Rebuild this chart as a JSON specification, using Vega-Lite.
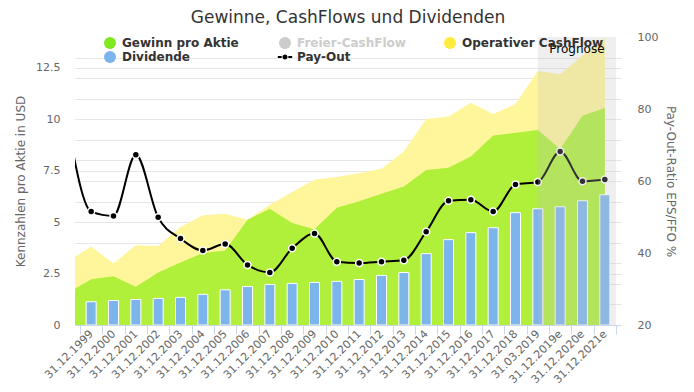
{
  "$schema": "https://vega.github.io/schema/vega-lite/v6.json",
  "autosize": {"type": "none"},
  "width": 546,
  "height": 288,
  "padding": {"left": 75, "top": 37, "right": 73, "bottom": 67},
  "background": "white",
  "config": {
    "view": {"stroke": null},
    "font": "DejaVu Sans",
    "axis": {"labelFont": "DejaVu Sans", "titleFont": "DejaVu Sans"}
  },
  "title": {
    "text": "Gewinne, CashFlows und Dividenden",
    "anchor": "middle",
    "frame": "group",
    "font": "DejaVu Sans",
    "fontSize": 17,
    "fontWeight": "normal",
    "color": "#333333",
    "offset": 4
  },
  "datasets": {
    "main": [
      {"i": -1, "label": "31.12.1998", "eps": 1.58, "ocf": 3.13, "div": null, "payout": 74},
      {"i": 0, "label": "31.12.1999", "eps": 2.23, "ocf": 3.81, "div": 1.13, "payout": 51.5},
      {"i": 1, "label": "31.12.2000", "eps": 2.37, "ocf": 2.99, "div": 1.19, "payout": 50.3},
      {"i": 2, "label": "31.12.2001", "eps": 1.86, "ocf": 3.88, "div": 1.24, "payout": 67.3},
      {"i": 3, "label": "31.12.2002", "eps": 2.55, "ocf": 3.84, "div": 1.29, "payout": 49.9},
      {"i": 4, "label": "31.12.2003", "eps": 3.04, "ocf": 4.76, "div": 1.34, "payout": 44.0},
      {"i": 5, "label": "31.12.2004", "eps": 3.50, "ocf": 5.33, "div": 1.49, "payout": 40.7},
      {"i": 6, "label": "31.12.2005", "eps": 3.62, "ocf": 5.41, "div": 1.71, "payout": 42.5},
      {"i": 7, "label": "31.12.2006", "eps": 5.12, "ocf": 5.12, "div": 1.87, "payout": 36.7},
      {"i": 8, "label": "31.12.2007", "eps": 5.65, "ocf": 5.84, "div": 1.97, "payout": 34.6},
      {"i": 9, "label": "31.12.2008", "eps": 4.96, "ocf": 6.46, "div": 2.02, "payout": 41.3},
      {"i": 10, "label": "31.12.2009", "eps": 4.65, "ocf": 7.06, "div": 2.07, "payout": 45.4},
      {"i": 11, "label": "31.12.2010", "eps": 5.70, "ocf": 7.19, "div": 2.12, "payout": 37.6},
      {"i": 12, "label": "31.12.2011", "eps": 6.02, "ocf": 7.38, "div": 2.21, "payout": 37.2},
      {"i": 13, "label": "31.12.2012", "eps": 6.38, "ocf": 7.59, "div": 2.41, "payout": 37.6},
      {"i": 14, "label": "31.12.2013", "eps": 6.73, "ocf": 8.43, "div": 2.55, "payout": 38.0},
      {"i": 15, "label": "31.12.2014", "eps": 7.54, "ocf": 10.01, "div": 3.47, "payout": 45.9},
      {"i": 16, "label": "31.12.2015", "eps": 7.64, "ocf": 10.14, "div": 4.15, "payout": 54.5},
      {"i": 17, "label": "31.12.2016", "eps": 8.19, "ocf": 10.80, "div": 4.49, "payout": 54.8},
      {"i": 18, "label": "31.12.2017", "eps": 9.21, "ocf": 10.26, "div": 4.73, "payout": 51.5},
      {"i": 19, "label": "31.12.2018", "eps": 9.34, "ocf": 10.74, "div": 5.46, "payout": 59.0},
      {"i": 20, "label": "31.03.2019", "eps": 9.48, "ocf": 12.35, "div": 5.65, "payout": 59.7},
      {"i": 21, "label": "31.12.2019e", "eps": 8.56, "ocf": 12.19, "div": 5.75, "payout": 68.2},
      {"i": 22, "label": "31.12.2020e", "eps": 10.17, "ocf": 13.10, "div": 6.04, "payout": 59.9},
      {"i": 23, "label": "31.12.2021e", "eps": 10.55, "ocf": 13.97, "div": 6.33, "payout": 60.4}
    ],
    "band": [{"start": 20, "end": 23.5, "mid": 21.75, "ypos": 13.4, "text": "Prognose"}],
    "legend": [
      {"series": "Gewinn pro Aktie"},
      {"series": "Freier-CashFlow"},
      {"series": "Operativer CashFlow"},
      {"series": "Dividende"},
      {"series": "Pay-Out"}
    ]
  },
  "layer": [
    {
      "data": {"name": "main"},
      "mark": {"type": "area", "color": "#fff59a", "clip": true, "interpolate": "linear"},
      "encoding": {
        "x": {
          "field": "i", "type": "quantitative",
          "scale": {"domain": [-0.5, 23.5], "nice": false, "zero": false},
          "axis": {
            "values": [0,1,2,3,4,5,6,7,8,9,10,11,12,13,14,15,16,17,18,19,20,21,22,23],
            "labelExpr": "['31.12.1999','31.12.2000','31.12.2001','31.12.2002','31.12.2003','31.12.2004','31.12.2005','31.12.2006','31.12.2007','31.12.2008','31.12.2009','31.12.2010','31.12.2011','31.12.2012','31.12.2013','31.12.2014','31.12.2015','31.12.2016','31.12.2017','31.12.2018','31.03.2019','31.12.2019e','31.12.2020e','31.12.2021e'][datum.value]",
            "labelAngle": -45, "labelAlign": "right", "labelBaseline": "middle",
            "labelPadding": 7, "labelFontSize": 11, "labelColor": "#666666",
            "labelOverlap": false, "labelFlush": false, "labelBound": false,
            "ticks": false, "grid": false, "domain": true, "domainColor": "#ccd6eb", "domainWidth": 1,
            "title": null, "orient": "bottom"
          }
        },
        "y": {
          "field": "ocf", "type": "quantitative",
          "scale": {"domain": [0, 14], "nice": false, "zero": true},
          "axis": {
            "orient": "left",
            "values": [0, 2.5, 5, 7.5, 10, 12.5],
            "labelExpr": "datum.value == 0 ? '0' : (datum.value % 1 == 0 ? format(datum.value, 'd') : format(datum.value, '.1f'))",
            "labelFontSize": 11, "labelColor": "#666666", "labelPadding": 15,
            "ticks": false, "domain": false,
            "grid": true, "gridColor": "#e6e6e6",
            "title": "Kennzahlen pro Aktie in USD",
            "titleFontSize": 12, "titleFontWeight": "normal", "titleColor": "#666666",
            "titlePadding": 8
          }
        }
      }
    },
    {
      "data": {"name": "main"},
      "mark": {"type": "area", "color": "#b0f03a", "clip": true, "interpolate": "linear"},
      "encoding": {
        "x": {
          "field": "i", "type": "quantitative",
          "axis": {
            "orient": "bottom",
            "values": [-0.5,0.5,1.5,2.5,3.5,4.5,5.5,6.5,7.5,8.5,9.5,10.5,11.5,12.5,13.5,14.5,15.5,16.5,17.5,18.5,19.5,20.5,21.5,22.5,23.5],
            "labels": false, "ticks": true, "tickSize": 9, "tickColor": "#ccd6eb",
            "domain": false, "grid": false, "title": null
          }
        },
        "y": {
          "field": "eps", "type": "quantitative",
          "scale": {"domain": [0, 14], "nice": false, "zero": true},
          "axis": {
            "orient": "left",
            "values": [0,1,2,3,4,5,6,7,8,9,10,11,12,13],
            "labels": false, "ticks": false, "domain": false,
            "grid": true, "gridColor": "#e6e6e6", "title": null
          }
        }
      }
    },
    {
      "data": {"name": "main"},
      "transform": [{"filter": "datum.div != null"}],
      "mark": {"type": "bar", "color": "#7cb5ec", "width": 10, "stroke": "white", "strokeWidth": 1, "clip": true},
      "encoding": {
        "x": {"field": "i", "type": "quantitative", "axis": null},
        "y": {
          "field": "div", "type": "quantitative",
          "scale": {"domain": [0, 14], "nice": false, "zero": true},
          "axis": null
        }
      }
    },
    {
      "data": {"name": "main"},
      "mark": {"type": "line", "color": "#000000", "strokeWidth": 2, "interpolate": "monotone", "clip": true},
      "encoding": {
        "x": {"field": "i", "type": "quantitative", "axis": null},
        "y": {
          "field": "payout", "type": "quantitative",
          "scale": {"domain": [20, 100], "nice": false, "zero": false},
          "axis": {
            "orient": "right",
            "values": [20, 40, 60, 80, 100],
            "labelFontSize": 11, "labelColor": "#666666", "labelPadding": 16,
            "ticks": false, "domain": false, "grid": false,
            "title": "Pay-Out-Ratio EPS/FFO %",
            "titleFontSize": 12, "titleFontWeight": "normal", "titleColor": "#666666",
            "titlePadding": 6
          }
        }
      }
    },
    {
      "data": {"name": "main"},
      "transform": [{"filter": "datum.i >= 0"}],
      "mark": {"type": "point", "filled": true, "fill": "#000000", "stroke": "white", "strokeWidth": 1.5, "size": 49, "opacity": 1, "clip": true},
      "encoding": {
        "x": {"field": "i", "type": "quantitative", "axis": null},
        "y": {
          "field": "payout", "type": "quantitative",
          "scale": {"domain": [20, 100], "nice": false, "zero": false},
          "axis": null
        }
      }
    },
    {
      "data": {"name": "band"},
      "mark": {"type": "rect", "fill": "#c2c2c2", "opacity": 0.26},
      "encoding": {
        "x": {"field": "start", "type": "quantitative", "axis": null},
        "x2": {"field": "end"}
      }
    },
    {
      "data": {"name": "band"},
      "mark": {"type": "text", "font": "DejaVu Sans", "fontSize": 12, "color": "#000000", "align": "center", "baseline": "middle"},
      "encoding": {
        "x": {"field": "mid", "type": "quantitative", "axis": null},
        "y": {
          "field": "ypos", "type": "quantitative",
          "scale": {"domain": [0, 14], "nice": false, "zero": true},
          "axis": null
        },
        "text": {"field": "text"}
      }
    },
    {
      "data": {"name": "legend"},
      "mark": {"type": "point", "filled": true, "opacity": 0},
      "encoding": {
        "color": {
          "field": "series", "type": "nominal",
          "scale": {
            "domain": ["Gewinn pro Aktie", "Freier-CashFlow", "Operativer CashFlow", "Dividende", "Pay-Out"],
            "range": ["#80e81e", "#cccccc", "#ffeb3b", "#7cb5ec", "#000000"]
          },
          "legend": {
            "orient": "none",
            "legendX": 29,
            "legendY": 0,
            "direction": "horizontal",
            "columns": 3,
            "columnPadding": 38,
            "rowPadding": 2,
            "gridAlign": "each",
            "padding": 0,
            "title": null,
            "symbolType": "circle",
            "symbolSize": 144,
            "symbolOpacity": 1,
            "symbolStrokeWidth": 0,
            "labelFont": "DejaVu Sans",
            "labelFontSize": 12,
            "labelFontWeight": "bold",
            "labelColor": "#333333",
            "labelOffset": 6,
            "labelLimit": 250,
            "encode": {
              "labels": {"update": {"fill": {"signal": "datum.label === 'Freier-CashFlow' ? '#cccccc' : '#333333'"}}},
              "symbols": {"update": {"shape": {"signal": "datum.label === 'Pay-Out' ? 'M-1.2,-0.17H-0.55V0.17H-1.2Z M0.55,-0.17H1.2V0.17H0.55Z M-0.42,0A0.42,0.42 0 1,1 0.42,0A0.42,0.42 0 1,1 -0.42,0Z' : 'circle'"}}}
            }
          }
        }
      }
    }
  ],
  "resolve": {
    "scale": {"y": "independent"},
    "axis": {"x": "independent", "y": "independent"}
  }
}
